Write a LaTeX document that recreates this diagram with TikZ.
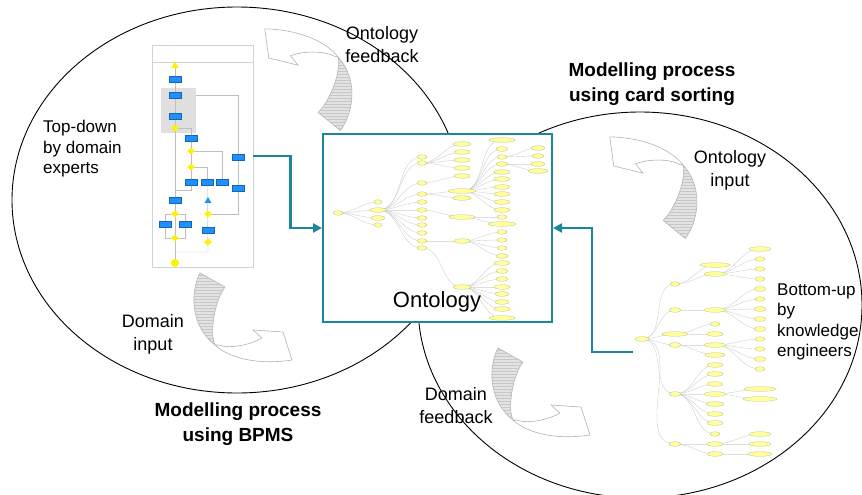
\documentclass[tikz,border=0pt]{standalone}
\usepackage{fontspec}
\setmainfont{Liberation Sans}
\usetikzlibrary{arrows.meta,shapes.geometric,patterns}

\definecolor{linkteal}{RGB}{28,134,158}
\definecolor{leafyellow}{RGB}{255,255,160}
\definecolor{taskblue}{RGB}{30,144,255}

\begin{document}
\begin{tikzpicture}[x=1pt, y=1pt,
    rim/.style={draw=black, line width=0.9pt},
    link/.style={draw=linkteal, line width=2.6pt, -{Triangle[length=9pt,width=9pt]}},
    leaf/.style={ellipse, fill=leafyellow, draw=leafyellow!75!black, line width=0.3pt, minimum height=4.6pt, inner sep=0pt},
    twig/.style={gray!40, line width=0.35pt},
    task/.style={fill=taskblue, draw=taskblue!70!black, line width=0.3pt, minimum width=12pt, minimum height=6pt, inner sep=0pt},
    gate/.style={diamond, fill=yellow, minimum width=8pt, minimum height=7pt, inner sep=0pt},
    flow/.style={gray!50, line width=0.35pt},
    lbl/.style={font=\fontsize{18}{23}\selectfont, align=center, inner sep=0pt},
    side/.style={font=\fontsize{17}{20.5}\selectfont, align=left, anchor=west, inner sep=0pt},
    heading/.style={font=\fontsize{19}{24.5}\selectfont\bfseries, align=center, inner sep=0pt},
    bendarrow/.pic={
      \filldraw[fill=gray!22, draw=gray!60, line width=0.6pt,
        postaction={pattern=horizontal lines, pattern color=gray!45}]
        (-15,72) .. controls (-24,55) and (-26,20) .. (0,0)
        .. controls (-6,12) and (0,45) .. (10,58) -- cycle;
      \filldraw[fill=white, draw=gray!60, line width=0.6pt]
        (0,0) .. controls (15,-14) and (45,-20) .. (77,-15) -- (68,13) -- (38,15) -- (47,7)
        .. controls (35,0) and (15,-4) .. (3,0) -- cycle;
    }]
    \useasboundingbox (0,0) rectangle (862,-495);
    \clip (0,0) rectangle (862,-495);

    % the two modelling processes
    \draw[rim] (237,-200) ellipse [x radius=225, y radius=193];
    \draw[rim] (640,-305) ellipse [x radius=222, y radius=193];

    % ontology in the middle
    \node[draw=linkteal, line width=2pt, fill=white, minimum width=229pt, minimum height=188pt, inner sep=0pt] (onto) at (437.5,-228) {};

    % ontology tree
    \foreach \xa/\ya/\xb/\kids in {
        338/213/378/{202,210,218,225},
        378/210/422/{157,163,183,194,202,210,218,225,233,241,248},
        422/163/462/{144,152,160,168},
        422/183/462/{176},
        422/194/462/{191,198},
        422/210/462/{217},
        422/241/462/{241},
        422/248/462/{287},
        462/191/502/{140,149,157,164,172,179,187,194,202,210},
        462/217/502/{217,224},
        462/241/502/{232,240,248,256},
        462/287/502/{263,271,279,287,294,302,309,318},
        502/157/538/{148,156},
        502/164/538/{164,171}}
      \foreach \yb in \kids
        \draw[twig] (\xa,-\ya) to[out=0,in=180] (\xb,-\yb);
    \node[leaf, minimum width=10pt] at (338,-213) {};
    \foreach \y/\w in {202/8,210/16,218/14,225/8}
      \node[leaf, minimum width=\w pt] at (378,-\y) {};
    \foreach \y in {157,163,183,194,202,210,218,225,233,241,248}
      \node[leaf, minimum width=10pt] at (422,-\y) {};
    \foreach \y/\w in {144/18,152/16,160/16,168/16,176/16,191/28,198/18,217/26,241/16,287/18}
      \node[leaf, minimum width=\w pt] at (462,-\y) {};
    \foreach \y/\w in {140/26,149/12,157/10,164/12,172/16,179/16,187/16,194/16,202/16,210/16,217/10,224/28,232/10,240/10,248/10,256/12,263/16,271/12,279/12,287/16,294/14,302/14,309/16,318/26}
      \node[leaf, minimum width=\w pt] at (502,-\y) {};
    \foreach \y/\w in {148/14,156/12,164/14,171/20}
      \node[leaf, minimum width=\w pt] at (538,-\y) {};
    \node[font=\fontsize{22}{26}\selectfont, inner sep=0pt] (ontoLbl) at (437,-302) {Ontology};

    % BPMS thumbnail
    \node[draw=gray!35, line width=0.5pt, minimum width=101pt, minimum height=222pt, inner sep=0pt] (bpms) at (202.5,-156) {};
    \draw[gray!35, line width=0.5pt] (152,-62) -- (253,-62);
    \fill[gray!25] (161,-88) rectangle (196,-133);
    \draw[flow] (175,-67) -- (175,-263);
    \draw[flow] (175,-128) -| (191,-182);
    \draw[flow] (191,-151) -| (222,-182);
    \draw[flow] (191,-167) -| (207,-182);
    \draw[flow] (196,-95) -| (238,-214) -- (208,-214);
    \draw[flow] (191,-182) |- (175,-190);
    \draw[flow] (165,-224) |- (175,-214) -| (185,-224);
    \draw[flow] (165,-224) |- (175,-238) -| (185,-224);
    \draw[flow] (207,-182) -- (208,-252) -- (175,-252);
    \node[regular polygon, regular polygon sides=3, fill=yellow, minimum size=9pt, inner sep=0pt] at (175,-66) {};
    \foreach \x/\y in {175/79,175/95,175/116,191/138,191/182,207/182,222/182,238/157,238/188,175/200,165/224,185/224,208/230}
      \node[task] at (\x,-\y) {};
    \foreach \x/\y in {175/128,191/151,191/167,175/214,175/238,208/214,208/242}
      \node[gate] at (\x,-\y) {};
    \node[regular polygon, regular polygon sides=3, fill=taskblue, minimum size=8pt, inner sep=0pt] at (208,-201) {};
    \fill[yellow] (175,-263) circle (4);

    % card sorting tree
    \node[minimum width=142pt, minimum height=215pt, inner sep=0pt] (cards) at (704,-352) {};
    \foreach \xa/\ya/\xb/\kids in {
        642/339/675/{284,310,334,345,394,444},
        675/284/715/{265,274},
        675/310/715/{310},
        675/334/715/{324,334},
        675/345/715/{345,355},
        675/394/715/{365,374,384,394,404,414,423,434},
        675/444/715/{444,454},
        715/274/760/{249,259,269,279},
        715/310/760/{289,299,309,319,329},
        715/345/760/{339,349,359,369},
        715/394/760/{389,399},
        715/444/760/{434,444},
        715/454/760/{454}}
      \foreach \yb in \kids
        \draw[twig] (\xa,-\ya) to[out=0,in=180] (\xb,-\yb);
    \node[leaf, minimum width=14pt] at (642,-339) {};
    \foreach \y/\w in {284/10,310/12,334/26,345/12,394/12,444/12}
      \node[leaf, minimum width=\w pt] at (675,-\y) {};
    \foreach \y/\w in {265/30,274/22,310/22,324/10,334/16,345/22,355/20,365/16,374/16,384/16,394/22,404/18,414/16,423/16,434/10,444/16,454/16}
      \node[leaf, minimum width=\w pt] at (715,-\y) {};
    \foreach \y/\w in {249/22,259/10,269/10,279/10,289/12,299/10,309/12,319/12,329/12,339/10,349/10,359/12,369/10,389/32,399/34,434/22,444/22,454/24}
      \node[leaf, minimum width=\w pt] at (760,-\y) {};

    % connectors into the ontology
    \draw[link] (bpms.east) -- ++(37,0) |- (onto.west);
    \draw[link] (cards.west) -- ++(-41,0) |- (onto.east);

    % feedback and input arrows
    \pic[rotate=170] at (338,-57) {bendarrow};
    \pic[rotate=170] at (683,-165) {bendarrow};
    \pic at (215,-345) {bendarrow};
    \pic at (513,-420) {bendarrow};

    % texts
    \node[lbl] (ontoFb) at (382,-45) {Ontology\\feedback};
    \node[heading] (cardTitle) at (652,-84) {Modelling process\\using card sorting};
    \node[lbl] (ontoIn) at (730,-170) {Ontology\\input};
    \node[side] (topDown) at (43,-149) {Top-down\\by domain\\experts};
    \node[lbl] (domIn) at (153,-334) {Domain\\input};
    \node[side] (bottomUp) at (777,-322) {Bottom-up\\by\\knowledge\\engineers};
    \node[heading] (bpmsTitle) at (238,-424) {Modelling process\\using BPMS};
    \node[lbl] (domFb) at (456,-406) {Domain\\feedback};
\end{tikzpicture}
\end{document}
